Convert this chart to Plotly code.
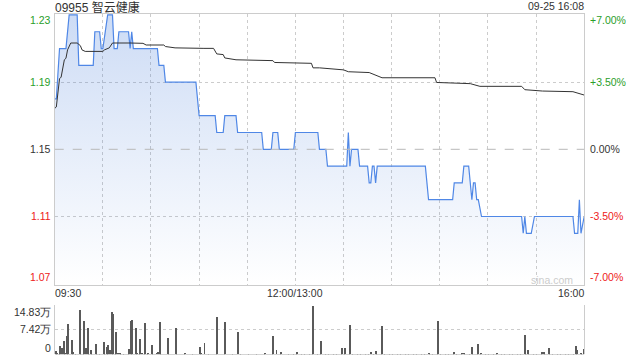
import plotly.graph_objects as go

# ---------------- data ----------------
stock_title = "09955 智云健康"
stamp = "09-25 16:08"
prev_close = 1.15

# intraday price (minute index from 09:30, 0..330 with lunch removed)
price_min = [0, 1, 3, 7, 9, 14, 15, 24, 25, 28, 29, 30, 33, 36, 37, 39, 40, 46, 47, 48,
             49, 64, 65, 68, 69, 88, 90, 100, 101, 105, 106, 113, 114, 129, 130, 135, 136, 139, 140, 149,
             150, 164, 165, 169, 170, 182, 183, 184, 185, 189, 190, 195, 196, 197, 198, 199, 200, 201, 231, 233,
             248, 249, 254, 255, 258, 260, 261, 262, 263, 264, 266, 291, 292, 293, 294, 297, 299, 323, 324, 326,
             327, 328, 330]
price_val = [1.18, 1.18, 1.21, 1.21, 1.23, 1.23, 1.20, 1.20, 1.22, 1.22, 1.21, 1.21, 1.23, 1.23, 1.21, 1.21, 1.22, 1.22, 1.21, 1.22,
             1.21, 1.21, 1.20, 1.20, 1.19, 1.19, 1.17, 1.17, 1.16, 1.16, 1.17, 1.17, 1.16, 1.16, 1.15, 1.15, 1.16, 1.16, 1.15, 1.15,
             1.16, 1.16, 1.15, 1.15, 1.14, 1.14, 1.16, 1.14, 1.15, 1.15, 1.14, 1.14, 1.13, 1.13, 1.14, 1.14, 1.13, 1.14, 1.14, 1.12,
             1.12, 1.13, 1.13, 1.14, 1.14, 1.12, 1.13, 1.13, 1.12, 1.12, 1.11, 1.11, 1.10, 1.11, 1.10, 1.10, 1.11, 1.11, 1.10, 1.10,
             1.12, 1.10, 1.11]

# average price line
avg_min = [0, 1, 3, 4, 6, 7, 8, 10, 14, 16, 17, 19, 30, 31, 34, 36, 47, 55, 57, 68,
           69, 75, 93, 99, 101, 105, 106, 113, 136, 137, 160, 161, 165, 180, 183, 196, 204, 237, 238, 259,
           265, 291, 293, 304, 323, 330]
avg_val = [1.1744, 1.1752, 1.1920, 1.1930, 1.2033, 1.2042, 1.2092, 1.2133, 1.2133, 1.2117,
           1.2092, 1.2083, 1.2083, 1.2092, 1.2104, 1.2133, 1.2133, 1.2131, 1.2121, 1.2121,
           1.2112, 1.2104, 1.2101, 1.2101, 1.2068, 1.2064, 1.2044, 1.2033, 1.2028, 1.2017,
           1.2012, 1.1985, 1.1985, 1.1973, 1.1962, 1.1957, 1.1926, 1.1926, 1.1898, 1.1891,
           1.1875, 1.1875, 1.1855, 1.1847, 1.1843, 1.1823]

# per-minute volume (万)
volume = [
    1.1, 0.3, 0.2, 2.5, 2.1, 4.0, 0.3, 5.5, 9.1, 0.2,
    4.3, 0.8, 0.2, 0.2, 0.2, 13.3, 0.2, 0.2, 10.0, 2.0,
    7.9, 0.2, 1.3, 0.2, 0.2, 3.1, 0.2, 0.2, 0.2, 0.2,
    3.7, 0.2, 2.2, 2.8, 1.3, 12.7, 12.1, 0.2, 6.7, 0.5,
    0.5, 0.2, 0.2, 0.2, 0.2, 0.2, 1.8, 10.0, 10.3, 0.2,
    7.9, 0.5, 0.2, 4.8, 0.3, 0.2, 9.4, 0.2, 0.5, 0.2,
    2.8, 0.2, 0.2, 0.5, 0.8, 9.7, 0.2, 0.2, 0.2, 0.2,
    4.9, 0.2, 0.2, 0.2, 0.2, 7.9, 0.2, 0.2, 0.2, 0.2,
    0.2, 0.5, 0.2, 0.2, 0.2, 0.2, 0.2, 0.2, 0.2, 0.2,
    2.2, 0.5, 0.2, 3.4, 0.2, 0.2, 0.2, 0.2, 0.2, 0.2,
    0.2, 11.2, 0.2, 0.2, 0.2, 0.2, 9.7, 0.2, 0.2, 0.2,
    0.2, 0.2, 0.2, 0.2, 6.7, 0.2, 0.2, 0.2, 0.2, 0.2,
    0.2, 0.2, 0.1, 0.2, 0.2, 0.2, 0.1, 0.2, 0.2, 0.2,
    0.2, 0.5, 0.2, 0.2, 0.2, 0.2, 5.5, 0.2, 1.3, 0.2,
    0.2, 0.7, 0.2, 0.2, 0.2, 0.2, 0.2, 0.2, 0.2, 0.2,
    0.2, 0.7, 0.2, 0.2, 0.2, 0.2, 0.2, 0.2, 0.2, 0.2,
    0.2, 14.6, 0.2, 0.2, 0.2, 0.2, 4.0, 0.2, 0.2, 0.2,
    0.2, 0.2, 0.2, 0.2, 0.2, 0.2, 0.2, 0.2, 0.2, 1.9,
    0.2, 1.9, 0.2, 0.2, 8.8, 0.2, 0.2, 0.2, 0.2, 0.2,
    0.2, 0.2, 0.2, 0.2, 0.2, 0.2, 0.2, 0.7, 0.2, 0.2,
    1.0, 0.2, 0.2, 0.2, 8.5, 0.2, 0.2, 0.2, 0.2, 0.2,
    0.2, 0.2, 0.2, 0.2, 0.2, 0.2, 0.2, 0.2, 0.2, 0.2,
    0.2, 0.2, 0.2, 0.2, 0.2, 0.2, 0.2, 0.2, 0.2, 0.2,
    0.2, 0.2, 0.2, 0.5, 0.2, 0.2, 0.2, 0.2, 0.2, 10.0,
    0.2, 0.2, 0.2, 0.2, 0.2, 0.2, 0.2, 0.2, 0.2, 0.7,
    0.2, 0.2, 0.2, 0.2, 0.5, 0.5, 0.2, 0.2, 0.2, 0.2,
    2.2, 0.2, 0.2, 0.2, 3.1, 0.2, 0.5, 0.2, 0.2, 0.2,
    0.2, 0.2, 0.2, 0.2, 0.2, 0.2, 0.5, 0.2, 0.2, 0.2,
    0.2, 0.2, 0.2, 0.2, 0.2, 0.2, 0.2, 0.2, 0.2, 0.2,
    0.2, 0.2, 0.2, 5.8, 0.2, 1.3, 0.2, 0.2, 0.2, 0.2,
    0.2, 0.2, 0.2, 0.2, 0.7, 0.7, 0.2, 0.2, 1.9, 0.2,
    0.2, 0.2, 0.2, 0.2, 0.2, 0.2, 0.2, 0.2, 0.2, 0.2,
    0.2, 0.2, 0.2, 0.2, 0.2, 2.5, 1.3, 0.2, 0.3, 0.2,
    1.6,
]
vol_minutes = list(range(len(volume)))

# axis labels / grid
grid_minutes = [30, 60, 90, 120, 150, 180, 210, 240, 270, 300]
grid_prices = [1.19, 1.11]
time_labels = ["09:30", "12:00/13:00", "16:00"]
time_minutes = [0, 150, 330]
price_ticks = [1.23, 1.19, 1.15, 1.11, 1.07]
price_labels = ["1.23", "1.19", "1.15", "1.11", "1.07"]
pct_labels = ["+7.00%", "+3.50%", "0.00%", "-3.50%", "-7.00%"]
vol_ticks = [14.83, 7.42, 0]
vol_labels = ["14.83万", "7.42万", "0"]

# ---------------- style ----------------
GREEN = "#2a9e2a"
RED = "#ee2020"
DARK = "#333333"
FONT = "Liberation Sans, Arial, sans-serif"
XD = [0.0855, 0.9128]
YD_MAIN = [0.2097, 0.9608]
YD_VOL = [0.0158, 0.1539]
y_lo, y_hi = 1.0695, 1.2305
x_lo, x_hi = 0, 330

fig = go.Figure()
fig.add_trace(go.Scatter(
    x=price_min, y=price_val, mode="lines",
    line=dict(color="#4f87e6", width=1.2),
    fill="tozeroy",
    fillgradient=dict(type="vertical",
                      colorscale=[[0, "rgba(70,125,218,0)"], [1, "rgba(70,125,218,0.27)"]],
                      start=y_lo, stop=y_hi),
    xaxis="x", yaxis="y", hoverinfo="skip"))
fig.add_trace(go.Scatter(
    x=avg_min, y=avg_val, mode="lines",
    line=dict(color="#333333", width=1),
    xaxis="x", yaxis="y", hoverinfo="skip"))
fig.add_trace(go.Bar(
    x=vol_minutes, y=volume, width=0.6,
    marker=dict(color="#5a5a5a", line=dict(width=0)),
    xaxis="x2", yaxis="y2", hoverinfo="skip"))

# previous close reference line
fig.add_shape(type="line", xref="x", yref="y", x0=x_lo, x1=x_hi, y0=prev_close, y1=prev_close,
              line=dict(color="#b8b8b8", width=1, dash="dash"), layer="above")

ann = []
colors_l = [GREEN, GREEN, DARK, RED, RED]
shifts = [-5, 0, 0, 0, 7]
for v, t, c, s in zip(price_ticks, price_labels, colors_l, shifts):
    ann.append(dict(xref="paper", yref="y", x=XD[0], y=v, text=t, showarrow=False,
                    xanchor="right", yanchor="middle", xshift=-2, yshift=s,
                    font=dict(family=FONT, size=10.5, color=c)))
for v, t, c, s in zip(price_ticks, pct_labels, colors_l, shifts):
    ann.append(dict(xref="paper", yref="y", x=XD[1], y=v, text=t, showarrow=False,
                    xanchor="left", yanchor="middle", xshift=4, yshift=s,
                    font=dict(family=FONT, size=10.5, color=c)))
anchors = ["left", "center", "right"]
xs = [-2, 0, 2]
for m, t, a, s in zip(time_minutes, time_labels, anchors, xs):
    ann.append(dict(xref="x", yref="paper", x=m, y=YD_MAIN[0], text=t, showarrow=False,
                    xanchor=a, yanchor="top", xshift=s, yshift=0,
                    font=dict(family=FONT, size=10.5, color=DARK)))
vshifts = [-7, 0, 6]
for v, t, s in zip(vol_ticks, vol_labels, vshifts):
    ann.append(dict(xref="paper", yref="y2", x=XD[0], y=v, text=t, showarrow=False,
                    xanchor="right", yanchor="middle", xshift=-2, yshift=s,
                    font=dict(family=FONT, size=10.5, color=DARK)))
ann.append(dict(xref="x", yref="paper", x=x_lo, y=1, text=stock_title, showarrow=False,
                xanchor="left", yanchor="top", xshift=-2, yshift=2,
                font=dict(family=FONT + ", Noto Sans CJK SC", size=12, color=DARK)))
ann.append(dict(xref="x", yref="paper", x=x_hi, y=1, text=stamp, showarrow=False,
                xanchor="right", yanchor="top", xshift=2, yshift=2,
                font=dict(family=FONT, size=10.5, color=DARK)))
ann.append(dict(xref="x", yref="y", x=x_hi, y=y_lo, text="sina.com", showarrow=False,
                xanchor="right", yanchor="bottom", xshift=-9, yshift=-3,
                font=dict(family=FONT, size=10.5, color="#cccccc")))

GRID = dict(showgrid=True, gridcolor="#cccccc", griddash="dot", gridwidth=1)
fig.update_layout(
    width=640, height=360, margin=dict(l=0, r=0, t=0, b=0),
    paper_bgcolor="white", plot_bgcolor="white", showlegend=False,
    bargap=0, annotations=ann,
    xaxis=dict(domain=XD, range=[x_lo, x_hi], tickvals=grid_minutes, showticklabels=False,
               ticks="", **GRID,
               showline=True, linecolor="#cccccc", linewidth=1, mirror=True, zeroline=False,
               anchor="y", fixedrange=True),
    yaxis=dict(domain=YD_MAIN, range=[y_lo, y_hi], tickvals=grid_prices, showticklabels=False,
               ticks="", **GRID,
               showline=True, linecolor="#cccccc", linewidth=1, mirror=True, zeroline=False,
               anchor="x", fixedrange=True),
    xaxis2=dict(domain=XD, range=[-0.4, 330.4], showticklabels=False, ticks="", showgrid=False,
                showline=False, zeroline=False, anchor="y2", fixedrange=True),
    yaxis2=dict(domain=YD_VOL, range=[0, 14.83], tickvals=[7.42, 14.83], showticklabels=False,
                ticks="", **GRID,
                showline=True, linecolor="#cccccc", linewidth=1, mirror=True, zeroline=False,
                anchor="x2", fixedrange=True),
)

fig.write_html("out.html", config={"displayModeBar": False})
